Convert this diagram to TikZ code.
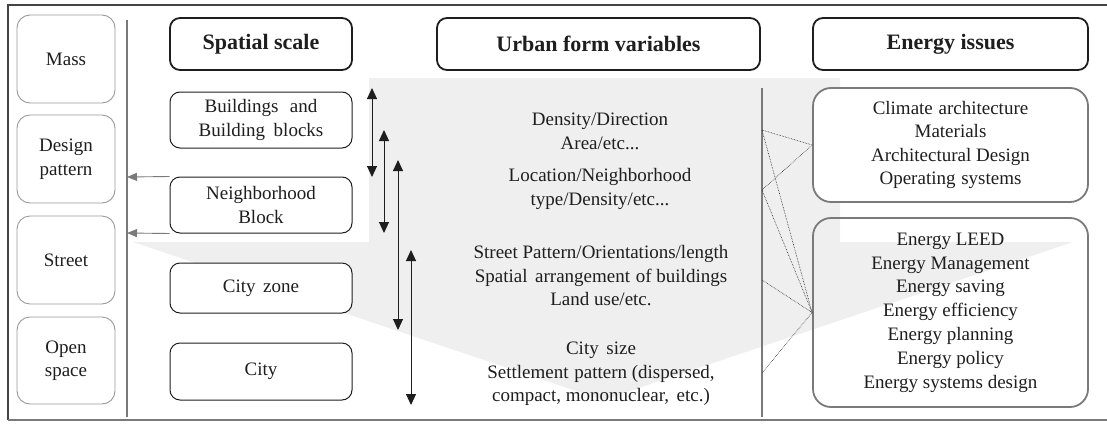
\documentclass[tikz,border=0pt]{standalone}
\usepackage{fontspec}
\setmainfont{Liberation Serif}
\usetikzlibrary{arrows.meta}
\definecolor{txt}{HTML}{1E1E1E}
\definecolor{funnelgray}{HTML}{EFEFEF}
\definecolor{lgray}{HTML}{9A9A9A}
\definecolor{mgray}{HTML}{7A7A7A}
\definecolor{dgray}{HTML}{444444}
\tikzset{
  base/.style={text=txt, align=center, inner sep=0pt, font=\fontsize{19}{23.5}\selectfont},
  leftbox/.style={base, draw=lgray, line width=0.9pt, fill=white, rounded corners=13pt, minimum width=98pt},
  scalebox/.style={base, draw=txt, line width=1pt, fill=white, rounded corners=10pt, minimum width=182pt},
  headbox/.style={base, draw=txt, line width=1.8pt, fill=white, rounded corners=10pt, minimum height=52pt, font=\bfseries\fontsize{22}{26}\selectfont},
  energybox/.style={base, draw=mgray, line width=1.8pt, rounded corners=18pt, minimum width=275pt},
  vtext/.style={base},
  dbl/.style={txt, line width=1pt, {Triangle[length=11pt,width=10pt]}-{Triangle[length=11pt,width=10pt]}},
  grayarrow/.style={mgray, line width=0.9pt, -{Triangle[length=10pt,width=8pt]}},
  vbar/.style={mgray, line width=2pt},
  link/.style={txt, line width=0.6pt, densely dotted}
}
\begin{document}
\begin{tikzpicture}[x=1pt,y=-1pt]
\useasboundingbox (0,0) rectangle (1107,423);
% frame
\draw[dgray, line width=2.5pt] (1107,5) -- (8,5) -- (8,420);
\draw[mgray, line width=1.5pt] (8,420) -- (1107,420);
% shaded funnel
\fill[funnelgray] (369,78) -- (840,78) -- (840,242) -- (1073,242) -- (603,400) -- (133,242) -- (369,242) -- cycle;
% left column
\node[leftbox, minimum height=88pt] (mass) at (66,59) {Mass};
\node[leftbox, minimum height=88pt] (design) at (66,159) {Design\\pattern};
\node[leftbox, minimum height=88pt] (street) at (66,260) {Street};
\node[leftbox, minimum height=87pt] (open) at (66,360.5) {Open\\space};
\coordinate (lt) at (127,20);
\coordinate (lb) at (127,417);
\draw[vbar] (lt) -- (lb);
% headers
\node[headbox, minimum width=182pt] (hscale) at (261,44) {Spatial scale};
\node[headbox, minimum width=323pt] (hurban) at (598.5,44) {Urban form variables};
\node[headbox, minimum width=275pt] (henergy) at (950.5,44) {Energy issues};
% spatial scale
\node[scalebox, minimum height=56pt] (bldg) at (261,120) {Buildings\hspace{0.6em}and\\Building\hspace{0.45em}blocks};
\node[scalebox, minimum height=56pt] (nbhd) at (261,205) {Neighborhood\\Block};
\node[scalebox, minimum height=50pt] (zone) at (261,288) {City\hspace{0.4em}zone};
\node[scalebox, minimum height=57pt] (city) at (261,371.5) {City};
\coordinate (a1) at (127,177);
\coordinate (a2) at (127,233);
\draw[grayarrow] (nbhd.north west) -- (a1);
\draw[grayarrow] (nbhd.south west) -- (a2);
% vertical double arrows
\coordinate (d1t) at (372,88);  \coordinate (d1b) at (372,177);
\coordinate (d2t) at (384,130); \coordinate (d2b) at (384,233);
\coordinate (d3t) at (398,160); \coordinate (d3b) at (398,330);
\coordinate (d4t) at (411,250); \coordinate (d4b) at (411,405);
\draw[dbl] (d1t) -- (d1b);
\draw[dbl] (d2t) -- (d2b);
\draw[dbl] (d3t) -- (d3b);
\draw[dbl] (d4t) -- (d4b);
% urban form variables
\node[vtext] (u1) at (600,131.5) {Density/Direction\\Area/etc...};
\node[vtext] (u2) at (600,189) {Location/Neighborhood\\type/Density/etc...};
\node[vtext] (u3) at (601,276) {Street Pattern/Orientations/length\\Spatial\hspace{0.4em}arrangement\hspace{0.3em}of buildings\\Land use/etc.};
\node[vtext] (u4) at (601,374) {City\hspace{0.4em}size\\Settlement\hspace{0.3em}pattern (dispersed,\\compact, mononuclear,\hspace{0.4em}etc.)};
% right bar
\coordinate (rt) at (762,88);
\coordinate (rb) at (762,417);
\draw[vbar] (rt) -- (rb);
% energy issues
\node[energybox, fill=white, minimum height=114pt] (en1) at (950.5,145) {Climate\hspace{0.3em}architecture\\Materials\\Architectural Design\\Operating\hspace{0.3em}systems};
\node[energybox, minimum height=189pt, font=\fontsize{19}{23.8}\selectfont] (en2) at (950.5,312.5) {Energy LEED\\Energy Management\\Energy saving\\Energy efficiency\\Energy planning\\Energy policy\\Energy systems design};
% dotted links
\coordinate (p1) at (762,130);
\coordinate (p2) at (762,190);
\coordinate (p3) at (762,280);
\coordinate (p4) at (762,373);
\draw[link] (p1) -- (en1.west);
\draw[link] (p2) -- (en1.west);
\draw[link] (p1) -- (en2.west);
\draw[link] (p2) -- (en2.west);
\draw[link] (p3) -- (en2.west);
\draw[link] (p4) -- (en2.west);
\end{tikzpicture}
\end{document}
